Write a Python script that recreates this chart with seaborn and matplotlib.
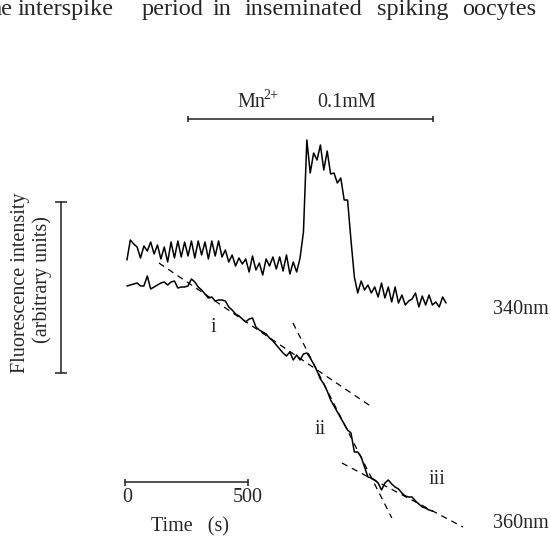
import numpy as np
import matplotlib
matplotlib.use("Agg")
import matplotlib.pyplot as plt
import seaborn as sns

# ---- data ----
# sampling of both traces
T0 = 8.0      # s, first sample
DT = 13.8     # s, sample interval

# 340nm trace, fluorescence (arbitrary units)
f340 = [280, 300, 296, 293, 282, 294, 289, 298, 286, 295,
        281, 293, 278, 298, 282, 299, 283, 298, 284, 299,
        282, 299, 285, 298, 281, 299, 284, 299, 283,
        290, 278, 285, 274, 282, 276, 281, 268, 284, 270,
        277, 265, 281, 274, 283, 271, 283, 269, 285, 266,
        278, 268, 282,
        308, 400,
        367, 387, 380, 395, 370, 389, 366, 367, 357, 362,
        340, 340, 300, 263, 247, 259, 250, 255, 247, 253,
        243, 257, 242, 253, 238, 253, 237, 245, 235, 239,
        241, 247, 233, 244, 235, 245, 235, 238, 233, 243,
        237]

# 360nm trace, fluorescence (arbitrary units)
f360 = [254, 255, 256, 257, 254, 254, 264, 251, 253, 255,
        257, 258, 255, 258, 259, 252, 253, 253, 254, 261,
        258, 253, 250, 246, 242, 243, 239, 240, 240, 239,
        233, 230, 226, 224, 221, 218, 221, 222, 213, 210,
        208, 206, 202, 199, 195, 191, 187, 184, 188, 180,
        185, 180, 186, 187, 182, 176, 169, 161, 156, 149,
        140, 134, 128, 122, 116, 110, 107, 88, 88, 83,
        73, 63, 62, 60, 57, 50, 57, 60, 56, 53,
        51, 47, 44, 43, 43, 39, 36, 33, 32, 30,
        29]

# linear fits on the 360nm trace
fit_labels = ["i", "ii", "iii"]
fit_t0 = [138, 683, 882]
fit_t1 = [1004, 1085, 1374]
fit_f0 = [277, 217, 77]
fit_f1 = [133, 22, 13]

# Mn2+ application period (s)
mn_start, mn_end = 256, 1252

# scale bars
time_bar = [0, 500]          # s
fluo_bar = [167, 338]        # arbitrary units

t340 = T0 + DT * np.arange(len(f340))
t360 = T0 + DT * np.arange(len(f360))

# ---- plotting ----
sns.set_theme(style="white")
plt.rcParams["font.family"] = ["Liberation Serif", "DejaVu Serif"]

W, H = 551, 536
fig = plt.figure(figsize=(W / 100, H / 100), dpi=100)
fig.patch.set_facecolor("white")
ax = fig.add_axes([0, 0, 1, 1])
ax.set_xlim(-508, 1732)
ax.set_ylim(4, 540)
ax.axis("off")

FS = 14.5
lw_trace = 1.1

sns.lineplot(x=t340, y=f340, color="black", lw=lw_trace, ax=ax,
             estimator=None, sort=False)
sns.lineplot(x=t360, y=f360, color="black", lw=lw_trace, ax=ax,
             estimator=None, sort=False)

for a, b, c, d in zip(fit_t0, fit_t1, fit_f0, fit_f1):
    ax.plot([a, b], [c, d], color="black", lw=0.9, dashes=(5, 4))

label_pos = [(358, 213), (793, 110), (1268, 60)]
for lab, (x, y) in zip(fit_labels, label_pos):
    ax.text(x, y, lab, fontsize=FS, ha="center", va="center")

bar_col = "#222222"
# Mn2+ bar
ax.plot([mn_start, mn_end], [421, 421], color=bar_col, lw=1.1)
ax.vlines([mn_start, mn_end], 418, 424, color=bar_col, lw=1.1)
ax.text(459, 433, "Mn", fontsize=FS, ha="left", va="baseline")
ax.text(564, 441, "2+", fontsize=10, ha="left", va="baseline")
ax.text(780, 433, "0.1mM", fontsize=FS, ha="left", va="baseline")

# time scale bar
ax.plot(time_bar, [58, 58], color=bar_col, lw=1.1)
ax.vlines(time_bar, 54.5, 61.5, color=bar_col, lw=1.1)
ax.text(10, 42, "0", fontsize=FS, ha="center", va="center")
ax.text(500, 42, "500", fontsize=FS, ha="center", va="center")
ax.text(264, 13, "Time   (s)", fontsize=FS, ha="center", va="center")

# fluorescence scale bar
ax.plot([-260, -260], fluo_bar, color=bar_col, lw=1.1)
ax.hlines(fluo_bar, -284, -236, color=bar_col, lw=1.1)
ax.text(-423, 257, "Fluorescence intensity", fontsize=FS, rotation=90,
        ha="center", va="center")
ax.text(-337, 260, "(arbitrary units)", fontsize=FS, rotation=90,
        ha="center", va="center")

ax.text(1722, 230, "340nm", fontsize=FS, ha="right", va="center")
ax.text(1722, 17, "360nm", fontsize=FS, ha="right", va="center")

# cropped line of body text from the page above
words = [("he", 13, "right"), ("interspike", 18, "left"), ("period", 142, "left"),
         ("in", 213, "left"), ("inseminated", 245, "left"),
         ("spiking", 377, "left"), ("oocytes", 462, "left")]
for w, x, ha in words:
    fig.text(x / W, 1 - 15 / H, w, fontsize=17.5, ha=ha, va="baseline")

fig.savefig("out.png", dpi=100, facecolor="white")
